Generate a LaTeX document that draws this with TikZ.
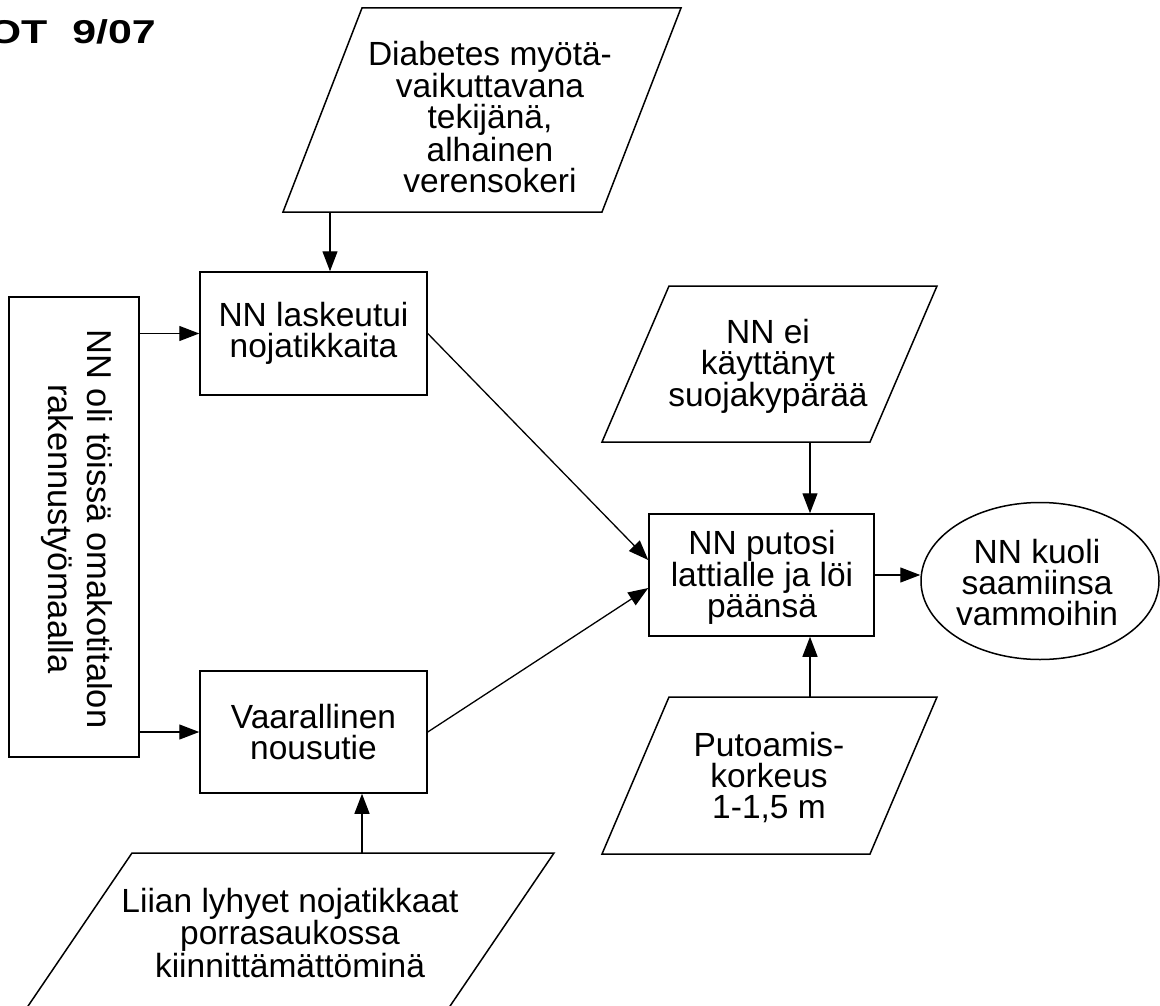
\documentclass[tikz,border=0pt]{standalone}
\usepackage{fontspec}
\setmainfont{Liberation Sans}
\usetikzlibrary{arrows.meta,shapes.geometric}
\begin{document}
\begin{tikzpicture}[x=1pt,y=-1pt,
  shp/.style={draw,line width=1.5pt},
  boxn/.style={draw,line width=1.5pt,rectangle,inner sep=0pt},
  txt/.style={align=center,inner sep=0pt,font=\fontsize{33.5}{31}\selectfont},
  arr/.style={line width=1.3pt,-{Triangle[length=20pt,width=15pt]}}]
\useasboundingbox (0,0) rectangle (1160,1006);
\clip (0,0) rectangle (1160,1006);
% title
\node[anchor=base east,inner sep=0pt,font=\fontsize{33}{33}\selectfont\bfseries] (title) at (156,44) {\scalebox{1.3}[1]{OT\kern10pt{} 9/07}};
% top parallelogram
\draw[shp] (362,8) -- (681,8) -- (602,212) -- (283,212) -- cycle;
\coordinate (p1b) at (330,212);
\node[txt] (p1) at (490,117) {Diabetes myötä-\\vaikuttavana\\tekijänä,\\alhainen\\verensokeri};
% left tall box
\node[boxn,minimum width=130pt,minimum height=460pt] (lb) at (74,527) {};
\node[txt,rotate=-90,font=\fontsize{34.5}{38.5}\selectfont] (lbt) at (77,529) {NN oli töissä omakotitalon\\rakennustyömaalla};
% boxes
\node[boxn,minimum width=227pt,minimum height=123pt] (b1) at (313.5,333.5) {};
\node[txt] (b1t) at (b1) {NN laskeutui\\nojatikkaita};
\node[boxn,minimum width=227pt,minimum height=122pt] (b2) at (313.5,732) {};
\node[txt] (b2t) at (b2) {Vaarallinen\\nousutie};
\node[boxn,minimum width=225pt,minimum height=122pt] (b3) at (761.5,575) {};
\node[txt] (b3t) at (762,577) {NN putosi\\lattialle ja löi\\päänsä};
\node[draw,line width=1.5pt,ellipse,inner sep=0pt,minimum width=238pt,minimum height=157pt] (e) at (1040,581) {};
\node[txt] (et) at (1037,583) {NN kuoli\\saamiinsa\\vammoihin};
% right parallelograms
\draw[shp] (669,286) -- (937,286) -- (870,442) -- (602,442) -- cycle;
\coordinate (p2b) at (810,442);
\node[txt] (p2) at (768,366) {NN ei\\käyttänyt\\suojakypärää};
\draw[shp] (669,697) -- (937,697) -- (870,854) -- (602,854) -- cycle;
\coordinate (p3t) at (810,697);
\node[txt] (p3) at (769,777) {Putoamis-\\korkeus\\1-1,5 m};
% bottom-left parallelogram
\draw[shp] (132,853) -- (554,853) -- (446,1012) -- (24,1012) -- cycle;
\coordinate (p4t) at (362,853);
\node[txt] (p4) at (290,933) {Liian lyhyet nojatikkaat\\porrasaukossa\\kiinnittämättöminä};
% connectors
\draw[arr] (p1b) -- (p1b |- b1.north);
\draw[arr] (lb.east |- b1.west) -- (b1.west);
\draw[arr] (lb.east |- b2.west) -- (b2.west);
\draw[arr] (p4t) -- (p4t |- b2.south);
\draw[arr] (b1.east) -- ([yshift=15pt]b3.west);
\draw[arr] (b2.east) -- ([yshift=-13pt]b3.west);
\draw[arr] (p2b) -- (p2b |- b3.north);
\draw[arr] (p3t) -- (p3t |- b3.south);
\draw[arr] (b3.east) -- (b3.east -| e.west);
\end{tikzpicture}
\end{document}
